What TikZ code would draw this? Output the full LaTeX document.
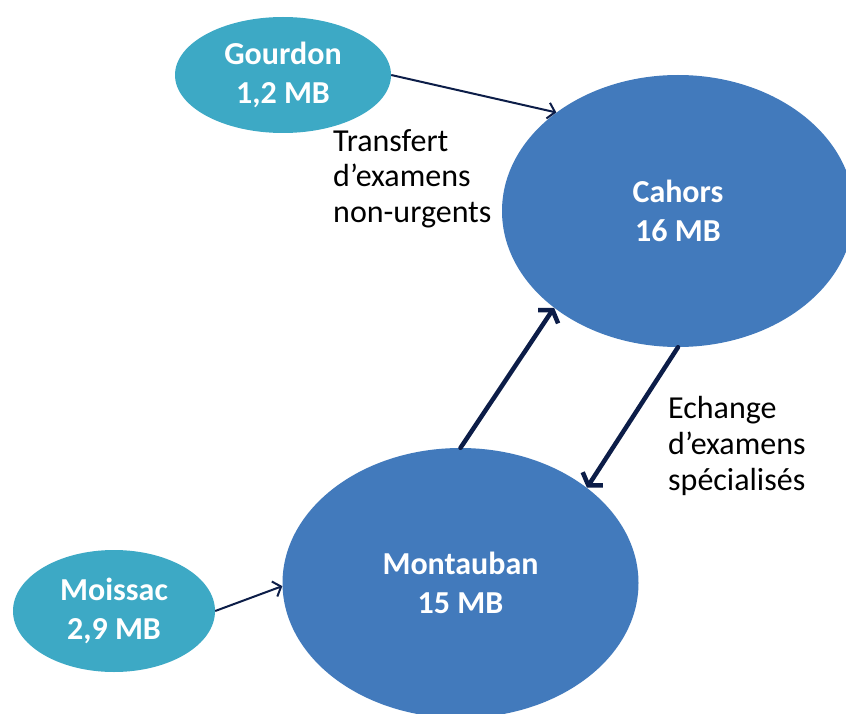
\documentclass[tikz,border=0pt]{standalone}
\usepackage{fontspec}
\setmainfont{Carlito}
\usetikzlibrary{shapes.geometric,arrows.meta}
\definecolor{teal}{HTML}{3DA9C5}
\definecolor{blue}{HTML}{427ABC}
\definecolor{navy}{HTML}{0C1D48}
\tikzset{
  small/.style={ellipse, fill=teal, draw=none, inner sep=0pt, text=white,
    font=\fontsize{32}{38.5}\selectfont\bfseries, align=center},
  big/.style={ellipse, fill=blue, draw=none, inner sep=0pt, text=white,
    font=\fontsize{32}{39}\selectfont\bfseries, align=center},
  lbl/.style={inner sep=0pt, align=left, font=\fontsize{32}{36}\selectfont, text=black},
  thin/.style={draw=navy, line width=2pt, -{Straight Barb[length=7pt,width=16pt]}},
  thick/.style={draw=navy, line width=4.5pt, line cap=round, -{Straight Barb[length=8pt,width=24pt]}}
}
\begin{document}
\begin{tikzpicture}[x=1pt,y=-1pt]
\fill[white] (0,0) rectangle (846,714);
\useasboundingbox (0,0) rectangle (846,714);
\begin{scope}
\clip (0,0) rectangle (846,714);
\node[small, minimum width=216pt, minimum height=116pt] (gourdon) at (283,75) {Gourdon\\1,2 MB};
\node[big, minimum width=352pt, minimum height=272pt] (cahors) at (678,211) {Cahors\\16 MB};
\node[big, minimum width=356pt, minimum height=270pt] (montauban) at (460.5,583) {Montauban\\15 MB};
\node[small, minimum width=202pt, minimum height=122pt] (moissac) at (114,611) {Moissac\\2,9 MB};
\end{scope}
\node[lbl, anchor=base west] (transfert) at (333,223) {Transfert\\d’examens\\non-urgents};
\node[lbl, anchor=base west] (echange) at (668,490) {Echange\\d’examens\\spécialisés};
\draw[thin] (gourdon.east) -- (cahors.141.6);
\draw[thin] (moissac.east) -- (montauban.181);
\draw[thick] (montauban.north) -- (cahors.218);
\draw[thick] (cahors.south) -- (montauban.37);
\end{tikzpicture}
\end{document}
